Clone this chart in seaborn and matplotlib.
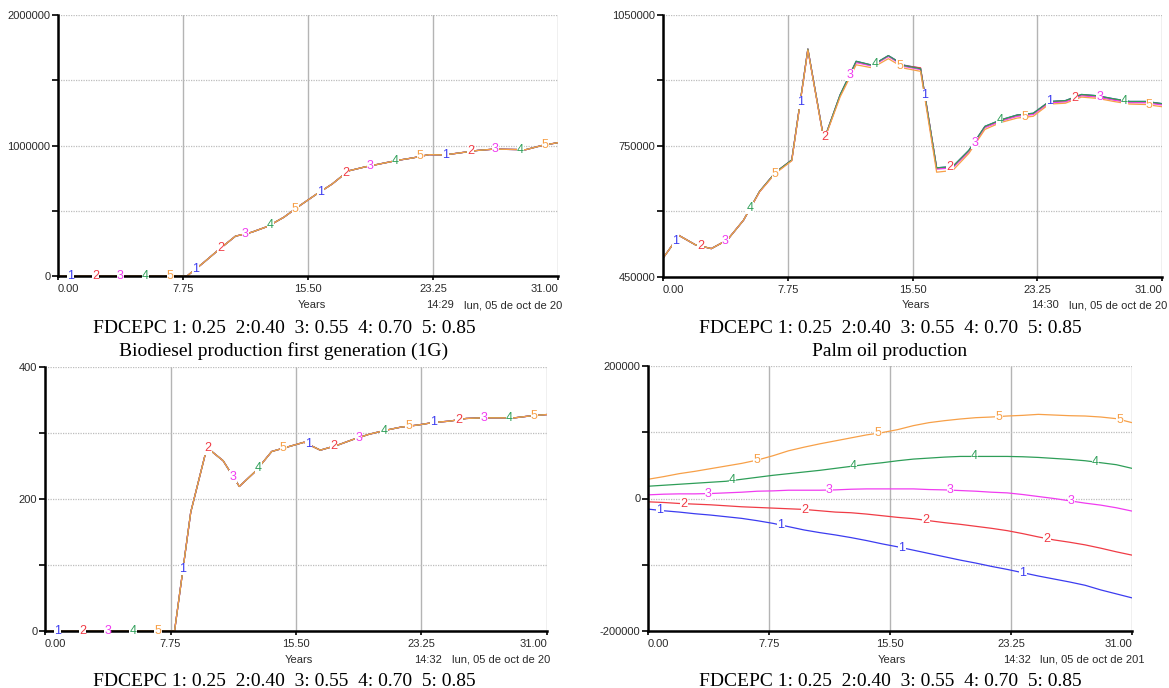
import numpy as np
import pandas as pd
import matplotlib
matplotlib.use("Agg")
import matplotlib.pyplot as plt
import seaborn as sns

# ---------------- data ----------------
years = list(range(0, 32))
scenarios = ["1", "2", "3", "4", "5"]
scenario_values = ["0.25", "0.40", "0.55", "0.70", "0.85"]
colors = ["#3c3cf0", "#f03c46", "#f03cf0", "#2e9e58", "#f7a048"]

# Biodiesel production first generation (1G) - identical for all scenarios
biodiesel_1g = [0, 0, 0, 0, 0, 0, 0, 0, 0, 100000, 205000, 305000, 335000, 380000,
                450000, 540000, 625000, 705000, 805000, 835000, 860000, 885000,
                905000, 930000, 928000, 945000, 962000, 972000, 970000, 968000,
                1000000, 1022000]

# Palm oil production per scenario
palm_1 = [493000, 545000, 524000, 515000, 535000, 580000, 646000, 690000, 718000, 972000,
          764000, 867000, 944000, 935000, 957000, 935000, 928000, 700000, 703000, 740000,
          795000, 810000, 821000, 825000, 852000, 854000, 868000, 865000, 858000, 852000,
          852000, 847000]
palm_2 = [493000, 545000, 524000, 515000, 535000, 580000, 646000, 690000, 718000, 972000,
          764000, 866000, 943000, 934000, 956000, 934000, 929000, 699000, 702000, 739000,
          794000, 809000, 820000, 824000, 851000, 853000, 867000, 864000, 857000, 851000,
          851000, 846000]
palm_3 = [493000, 545000, 524000, 515000, 535000, 580000, 645000, 689000, 717000, 971000,
          763000, 865000, 941000, 933000, 955000, 932000, 925000, 697000, 700000, 737000,
          792000, 807000, 818000, 822000, 849000, 851000, 865000, 862000, 855000, 849000,
          849000, 844000]
palm_4 = [493000, 545000, 524000, 515000, 535000, 580000, 646000, 690000, 718000, 972000,
          764000, 867000, 944000, 935000, 957000, 934000, 927000, 700000, 703000, 740000,
          795000, 810000, 821000, 825000, 852000, 854000, 868000, 865000, 858000, 852000,
          852000, 847000]
palm_5 = [493000, 545000, 524000, 515000, 535000, 580000, 645000, 688000, 716000, 970000,
          762000, 862000, 936000, 929000, 950000, 928000, 921000, 690000, 694000, 733000,
          788000, 804000, 814000, 818000, 846000, 848000, 862000, 859000, 852000, 846000,
          845000, 840000]

# Third panel (0-400 scale) - identical for all scenarios
panel3_values = [0, 0, 0, 0, 0, 0, 0, 0, 0, 180, 278, 258, 219, 242, 272, 279, 286, 274,
                 281, 290, 298, 304, 309, 312, 316, 318, 322, 323, 323, 323, 326, 328]

# Fourth panel per scenario
p4_1 = [-16000, -18500, -20500, -23000, -25000, -27500, -30000, -33500, -37500, -42500,
        -47500, -51500, -55000, -59000, -63500, -68500, -73000, -78000, -83000, -88000,
        -93000, -97500, -102500, -107000, -112000, -117000, -121500, -126000, -131000,
        -138000, -144000, -150000]
p4_2 = [-5000, -6000, -7500, -8500, -9500, -11000, -12500, -13500, -14500, -15500, -16500,
        -18500, -20500, -21500, -23500, -26000, -28500, -30500, -33500, -36500, -39000,
        -42000, -45000, -48500, -53000, -58000, -62500, -66000, -70000, -75000, -80500,
        -85500]
p4_3 = [5500, 6500, 7000, 7000, 7500, 8500, 9500, 11000, 11500, 12500, 12500, 12500, 13000,
        14000, 14500, 14500, 14500, 14500, 13500, 13000, 12000, 11000, 9500, 8500, 6000,
        3000, 0, -3500, -7000, -10000, -14000, -19000]
p4_4 = [18500, 20000, 21500, 23000, 24500, 26000, 29000, 32000, 35000, 37500, 40000, 42500,
        45500, 48500, 51500, 54000, 57000, 59500, 61000, 62500, 63500, 63500, 63500, 63500,
        63000, 62000, 60500, 59000, 57000, 54000, 51000, 45500]
p4_5 = [29000, 33000, 37500, 41000, 45000, 49000, 53000, 58000, 64500, 72000, 77500, 82500,
        87000, 91500, 96000, 99500, 104000, 110000, 114500, 117500, 120000, 122000, 123000,
        124500, 125500, 127000, 126000, 125000, 124500, 123000, 120500, 114500]

x_ticks = [0, 7.75, 15.5, 23.25, 31]
x_tick_labels = ["0.00", "7.75", "15.50", "23.25", "31.00"]

caption = "FDCEPC 1: 0.25  2:0.40  3: 0.55  4: 0.70  5: 0.85"
title_1 = "Biodiesel production first generation (1G)"
title_2 = "Palm oil production"
stamps = ["14:29", "14:30", "14:32", "14:32"]
date_texts = ["lun, 05 de oct de 20", "lun, 05 de oct de 20",
              "lun, 05 de oct de 20", "lun, 05 de oct de 201"]

# ---------------- figure ----------------
sns.set_theme(style="white")
plt.rcParams["font.family"] = ["Liberation Sans", "DejaVu Sans"]

W, H = 1169, 688
fig = plt.figure(figsize=(W / 100, H / 100), dpi=100)
fig.patch.set_facecolor("white")


def rect(x0, y0, x1, y1):
    return [x0 / W, 1 - y1 / H, (x1 - x0) / W, (y1 - y0) / H]


def long_df(series_list):
    rows = []
    for name, vals in zip(scenarios, series_list):
        for t, v in zip(years, vals):
            rows.append({"Years": t, "value": v, "scenario": name})
    return pd.DataFrame(rows)


def draw_panel(ax, series_list, ylim, yticks, ylabels):
    df = long_df(series_list)
    sns.lineplot(data=df, x="Years", y="value", hue="scenario", hue_order=scenarios,
                 palette=colors, legend=False, ax=ax, linewidth=0.9, estimator=None,
                 sort=False)
    ax.set_xlim(0, 31)
    ax.set_ylim(*ylim)
    ax.set_xticks(x_ticks)
    ax.set_xticklabels(x_tick_labels)
    ax.set_yticks(yticks)
    ax.set_yticklabels(ylabels)
    ax.set_xlabel("")
    ax.set_ylabel("")
    for s in ["top", "right"]:
        ax.spines[s].set_visible(False)
    for s in ["left", "bottom"]:
        ax.spines[s].set_color("black")
        ax.spines[s].set_linewidth(1.8)
    ax.grid(False)
    ax.yaxis.grid(True, linestyle=(0, (1, 1)), color="#bdbdbd", linewidth=0.9)
    ax.xaxis.grid(True, linestyle="-", color="#b4b4b4", linewidth=1.0)
    ax.tick_params(axis="y", direction="out", length=4, width=1.2, color="black",
                   labelsize=8, labelcolor="#2a2a2a", pad=1.5, left=True)
    ax.tick_params(axis="x", direction="out", length=3, width=1.2, color="black",
                   labelsize=8, labelcolor="#2a2a2a", pad=2.5, bottom=True)
    tl = ax.get_xticklabels()
    tl[0].set_ha("left")
    tl[-1].set_ha("right")
    # number labels along lines
    for i, vals in enumerate(series_list):
        for k in range(4):
            t = 0.77 + 1.55 * i + 7.75 * k
            y = np.interp(t, years, vals)
            ax.text(t, y, scenarios[i], color=colors[i], fontsize=9, ha="center",
                    va="center", zorder=5,
                    bbox=dict(facecolor="white", edgecolor="none", pad=0.2))


ax1 = fig.add_axes(rect(58, 15, 558, 276))
ax2 = fig.add_axes(rect(663, 15, 1162, 277))
ax3 = fig.add_axes(rect(45, 367, 547, 631))
ax4 = fig.add_axes(rect(648, 366, 1132, 631))

draw_panel(ax1, [biodiesel_1g] * 5, (0, 2000000),
           [0, 500000, 1000000, 1500000, 2000000], ["0", "", "1000000", "", "2000000"])
draw_panel(ax2, [palm_1, palm_2, palm_3, palm_4, palm_5], (450000, 1050000),
           [450000, 600000, 750000, 900000, 1050000], ["450000", "", "750000", "", "1050000"])
draw_panel(ax3, [panel3_values] * 5, (0, 400),
           [0, 100, 200, 300, 400], ["0", "", "200", "", "400"])
draw_panel(ax4, [p4_1, p4_2, p4_3, p4_4, p4_5], (-200000, 200000),
           [-200000, -100000, 0, 100000, 200000], ["-200000", "", "0", "", "200000"])


def ftext(x, y, s, **kw):
    return fig.text(x / W, 1 - y / H, s, **kw)


small = dict(fontsize=8, color="#2a2a2a", va="center")
# "Years" and timestamps
ftext(312, 305, "Years", ha="center", **small)
ftext(426, 305, stamps[0], ha="left", **small)
ftext(464, 305, date_texts[0], ha="left", **small)

ftext(916, 305, "Years", ha="center", **small)
ftext(1031, 305, stamps[1], ha="left", **small)
ftext(1069, 305, date_texts[1], ha="left", **small)

ftext(299, 660, "Years", ha="center", **small)
ftext(414, 660, stamps[2], ha="left", **small)
ftext(452, 660, date_texts[2], ha="left", **small)

ftext(892, 660, "Years", ha="center", **small)
ftext(1003, 660, stamps[3], ha="left", **small)
ftext(1040, 660, date_texts[3], ha="left", **small)

serif = dict(fontsize=14, color="black", ha="center", va="baseline",
             family=["Liberation Serif", "DejaVu Serif"])
ftext(284, 333, caption, **serif)
ftext(284, 356, title_1, **serif)
ftext(890, 333, caption, **serif)
ftext(890, 356, title_2, **serif)
ftext(284, 686, caption, **serif)
ftext(890, 686, caption, **serif)

fig.savefig("out.png", dpi=100, facecolor="white")
